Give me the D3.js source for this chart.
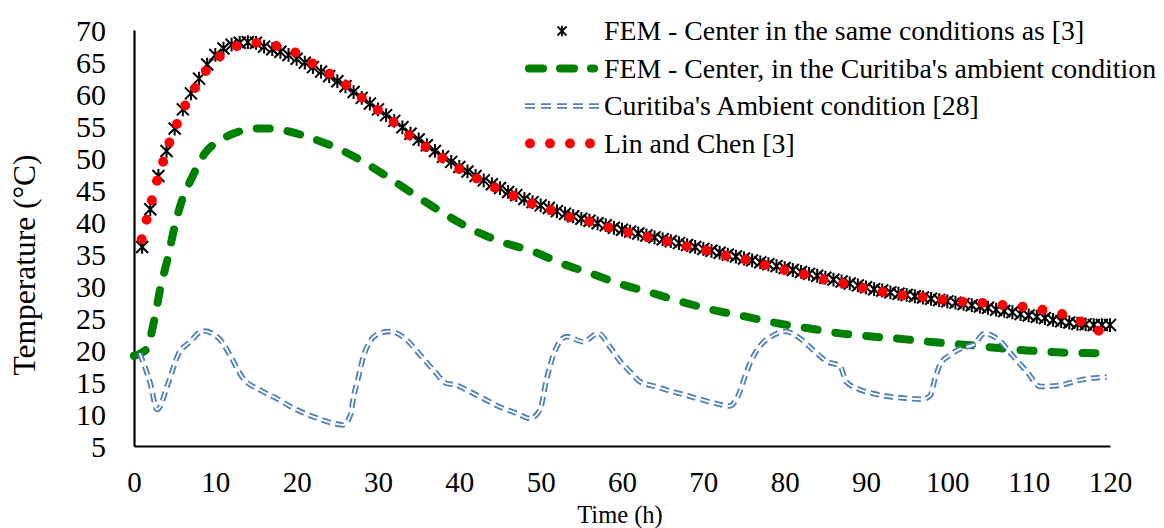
<!DOCTYPE html>
<html>
<head>
<meta charset="utf-8">
<script src="https://cdn.jsdelivr.net/npm/d3@7"></script>
<style>
  html, body { margin: 0; padding: 0; background: #fff; }
  svg { display: block; font-family: "Liberation Serif", "Times New Roman", serif; }
</style>
</head>
<body>
<div id="chart"></div>
<script>
// FEM - center, same conditions as [3] (hourly, t = 1..120 h)
var femCenter = [36.1, 42.0, 47.2, 51.1, 54.6, 57.6, 60.1, 62.4, 64.6, 66.1,
    67.1, 67.7, 68.0, 68.1, 68.0, 67.4, 67.0, 66.6, 66.1, 65.5,
    64.9, 64.2, 63.5, 62.8, 62.0, 61.2, 60.3, 59.4, 58.5, 57.6,
    56.7, 55.8, 54.8, 53.8, 52.9, 52.0, 51.1, 50.2, 49.4, 48.6,
    47.9, 47.2, 46.5, 45.9, 45.3, 44.7, 44.2, 43.6, 43.1, 42.6,
    42.2, 41.7, 41.3, 40.9, 40.5, 40.2, 39.8, 39.5, 39.1, 38.8,
    38.5, 38.2, 37.9, 37.6, 37.3, 37.0, 36.7, 36.4, 36.1, 35.8,
    35.5, 35.2, 34.9, 34.6, 34.3, 34.0, 33.7, 33.4, 33.1, 32.8,
    32.5, 32.2, 31.9, 31.6, 31.3, 31.0, 30.7, 30.4, 30.1, 29.8,
    29.5, 29.3, 29.0, 28.8, 28.6, 28.4, 28.2, 28.0, 27.8, 27.6,
    27.4, 27.2, 27.0, 26.8, 26.6, 26.3, 26.1, 25.9, 25.6, 25.4,
    25.2, 25.0, 24.7, 24.5, 24.3, 24.1, 24.0, 23.9, 23.9, 23.9];

// FEM - center, Curitiba's ambient condition
var curitibaHours = [0, 1, 1.6, 2.5, 3.2, 4.2, 5, 5.9, 7, 8.7, 10.6, 12.4, 14.7, 16.7, 19.2,
    21.8, 24.5, 27.8, 30.5, 34.8, 38.4, 42.1, 45.4, 49.1, 52.6, 56.1, 59.8, 63.7, 67.4,
    71.2, 74.9, 79, 82.9, 86.8, 90.7, 94.6, 98.5, 102.4, 106.3, 110.2, 114.1, 118.2, 120];
var curitibaCenter = [19.1, 19.6, 20.3, 24.7, 29.4, 34.6, 39.3, 43.4, 46.6, 50.7, 52.8, 53.9, 54.6, 54.6, 54.1,
    53.1, 51.8, 49.7, 47.6, 44.0, 41.1, 38.5, 36.8, 35.4, 33.5, 32.0, 30.3, 28.9, 27.5,
    26.25, 25.3, 24.2, 23.4, 22.6, 22.1, 21.7, 21.2, 20.8, 20.3, 19.9, 19.6, 19.5, 19.4];

// Curitiba's ambient condition [28]
var ambientHours = [0.7, 2.0, 2.85, 4.2, 5.4, 6.9, 8.5, 10.6, 11.8, 13.4, 15.5, 17.5, 19.6, 22, 24.5,
    25.7, 26.6, 27.0, 27.6, 28.2, 29, 30.2, 31.5, 33.5, 35.2, 36.8, 38.4, 39.7, 40.9, 42.9,
    45, 47.1, 48.7, 49.9, 50.7, 51.8, 53.2, 55.2, 57.1, 58.5, 59.8, 61, 62.2, 64.1, 65.9,
    67.7, 69.6, 71.4, 73.2, 74.4, 75.1, 75.9, 76.9, 78.6, 80.1, 81.9, 83.5, 85.2, 86.8,
    87.6, 88.9, 90.9, 93, 95, 96.9, 97.9, 98.5, 99.1, 100.3, 101.8, 103.2, 104.6, 106.3,
    108.1, 109.8, 111.4, 113.9, 116.3, 119.6];
var ambientTemp = [19.5, 14.8, 10.7, 14.8, 19.2, 21.3, 23.0, 21.6, 19.2, 15.6, 13.75, 12.45, 10.9, 9.6, 8.55,
    8.3, 9.8, 12.7, 15.8, 18.95, 21.3, 22.6, 22.9, 21.6, 19.2, 16.9, 14.8, 14.5, 13.75, 12.45,
    11.1, 10.1, 9.3, 10.6, 15.3, 20.0, 22.1, 21.3, 22.6, 20.5, 18.2, 16.6, 15.05, 14.3, 13.6,
    13.0, 12.3, 11.7, 11.25, 13.2, 15.8, 18.4, 20.5, 22.3, 22.9, 21.8, 20.0, 18.2, 17.5,
    15.0, 14.0, 13.2, 12.7, 12.45, 12.3, 12.9, 15.6, 17.7, 19.2, 20.3, 20.8, 22.6, 21.6,
    19.0, 16.6, 14.3, 14.5, 15.3, 15.8];

// Lin and Chen [3]
var linHours = [0.95, 1.56, 2.2, 2.87, 3.6, 4.35, 5.3, 6.3, 7.5, 8.85, 10.5, 12.6, 15.1, 17.5, 19.8,
    21.9, 24, 26.1, 28, 30, 31.9, 33.9, 36, 38, 40.1, 42.3, 44.5, 46.8, 49, 51.4, 53.7,
    56.2, 58.5, 60.9, 63.4, 65.8, 68.2, 70.6, 73.1, 75.5, 77.8, 80.3, 82.7, 85.1, 87.5,
    89.9, 92.4, 94.8, 97.3, 99.7, 102.2, 104.7, 107.1, 109.6, 112, 114.4, 116.7, 118.9];
var linTemp = [37.3, 40.4, 43.4, 46.6, 49.5, 52.4, 55.4, 58.2, 60.9, 63.6, 65.8, 67.5, 68.0, 67.5, 66.5,
    64.8, 63.2, 61.4, 59.4, 57.5, 55.6, 53.5, 51.6, 49.9, 48.2, 46.7, 45.3, 44.0, 42.8, 41.8, 40.7,
    40.0, 39.1, 38.3, 37.6, 36.9, 36.1, 35.5, 34.6, 34.0, 33.2, 32.4, 31.7, 30.9, 30.3,
    29.6, 29.0, 28.5, 28.2, 27.8, 27.5, 27.3, 27.0, 26.7, 26.2, 25.5, 24.3, 22.8];

var xTicks = [0, 10, 20, 30, 40, 50, 60, 70, 80, 90, 100, 110, 120];
var yTicks = [5, 10, 15, 20, 25, 30, 35, 40, 45, 50, 55, 60, 65, 70];

var legendLabels = ["FEM - Center in the same conditions as [3]",
    "FEM - Center, in the Curitiba's ambient condition",
    "Curitiba's Ambient condition [28]",
    "Lin and Chen [3]"];

var width = 1164, height = 528;
var blue = "#4f81bd", green = "#008000", red = "#ff0000";

var svg = d3.select("#chart").append("svg")
    .attr("width", width)
    .attr("height", height);

var x = d3.scaleLinear().domain([0, 120]).range([134, 1110]);
var y = d3.scaleLinear().domain([5, 70]).range([446, 30]);

// axes (no tick marks, only labels)
var xAxis = svg.append("g")
    .attr("transform", `translate(0,${y(5)})`)
    .call(d3.axisBottom(x).tickValues(xTicks).tickSize(0).tickPadding(26));
var yAxis = svg.append("g")
    .attr("transform", `translate(${x(0)},0)`)
    .call(d3.axisLeft(y).tickValues(yTicks).tickSize(0).tickPadding(28));

[xAxis, yAxis].forEach(g => {
    g.select(".domain").attr("stroke", "#000").attr("stroke-width", 2.2);
    g.selectAll("text")
        .attr("font-family", "Liberation Serif, Times New Roman, serif")
        .attr("font-size", 30)
        .attr("fill", "#000");
});
yAxis.selectAll("text").attr("dy", "0.36em");
xAxis.selectAll("text").attr("font-size", 29).attr("dy", "0.7em");

svg.append("text")
    .attr("x", 620).attr("y", 522.5)
    .attr("text-anchor", "middle")
    .attr("font-size", 24.5)
    .text("Time (h)");

svg.append("text")
    .attr("transform", "translate(35,265) rotate(-90)")
    .attr("text-anchor", "middle")
    .attr("font-size", 31.5)
    .text("Temperature (°C)");

function star(s) {
    return `M${-s},${-s}L${s},${s}M${-s},${s}L${s},${-s}M0,${-s * 1.15}L0,${s * 1.15}`;
}

var line = d3.line()
    .x(d => x(d[0]))
    .y(d => y(d[1]))
    .curve(d3.curveMonotoneX);

var plot = svg.append("g");

// series 1: asterisk markers
plot.append("g")
    .selectAll("path")
    .data(femCenter)
    .join("path")
    .attr("transform", (d, i) => `translate(${x(i + 1)},${y(d)})`)
    .attr("d", star(6))
    .attr("fill", "none")
    .attr("stroke", "#000")
    .attr("stroke-width", 2);

// series 2: green long dashes
plot.append("path")
    .datum(d3.zip(curitibaHours, curitibaCenter))
    .attr("d", line)
    .attr("fill", "none")
    .attr("stroke", green)
    .attr("stroke-width", 8)
    .attr("stroke-linecap", "round")
    .attr("stroke-dasharray", "13,18");

// series 3: blue double dashed line
var ambient = d3.zip(ambientHours, ambientTemp);
plot.append("path")
    .datum(ambient)
    .attr("d", line)
    .attr("fill", "none")
    .attr("stroke", blue)
    .attr("stroke-width", 5.5)
    .attr("stroke-dasharray", "9,5");
plot.append("path")
    .datum(ambient)
    .attr("d", line)
    .attr("fill", "none")
    .attr("stroke", "#fff")
    .attr("stroke-width", 1.8)
    .attr("stroke-dasharray", "9,5");

// series 4: red round dots, spaced so the first and last points get a dot
var linPath = plot.append("path")
    .datum(d3.zip(linHours, linTemp))
    .attr("d", line)
    .attr("fill", "none")
    .attr("stroke", red)
    .attr("stroke-width", 10)
    .attr("stroke-linecap", "round");
var linLen = linPath.node().getTotalLength();
var linStep = linLen / Math.round(linLen / 20);
linPath.attr("stroke-dasharray", `0,${(linStep - 0.05).toFixed(3)}`);

// legend
var legendY = [31, 68.5, 106, 143.5];
var legend = svg.append("g");

legend.append("path")
    .attr("transform", `translate(562,${legendY[0]})`)
    .attr("d", star(4.5))
    .attr("fill", "none")
    .attr("stroke", "#000")
    .attr("stroke-width", 1.8);

legend.append("line")
    .attr("x1", 529).attr("x2", 594)
    .attr("y1", legendY[1]).attr("y2", legendY[1])
    .attr("stroke", green)
    .attr("stroke-width", 8)
    .attr("stroke-linecap", "round")
    .attr("stroke-dasharray", "14,17");

legend.append("line")
    .attr("x1", 525).attr("x2", 603)
    .attr("y1", legendY[2]).attr("y2", legendY[2])
    .attr("stroke", blue)
    .attr("stroke-width", 5.5)
    .attr("stroke-dasharray", "10,6");
legend.append("line")
    .attr("x1", 525).attr("x2", 603)
    .attr("y1", legendY[2]).attr("y2", legendY[2])
    .attr("stroke", "#fff")
    .attr("stroke-width", 1.8)
    .attr("stroke-dasharray", "10,6");

legend.append("line")
    .attr("x1", 530).attr("x2", 592)
    .attr("y1", legendY[3]).attr("y2", legendY[3])
    .attr("stroke", red)
    .attr("stroke-width", 10)
    .attr("stroke-linecap", "round")
    .attr("stroke-dasharray", "0,20");

legend.selectAll("text")
    .data(legendLabels)
    .join("text")
    .attr("x", 604)
    .attr("y", (d, i) => legendY[i] + 9)
    .attr("font-size", 27.8)
    .attr("fill", "#000")
    .text(d => d);
</script>
</body>
</html>
